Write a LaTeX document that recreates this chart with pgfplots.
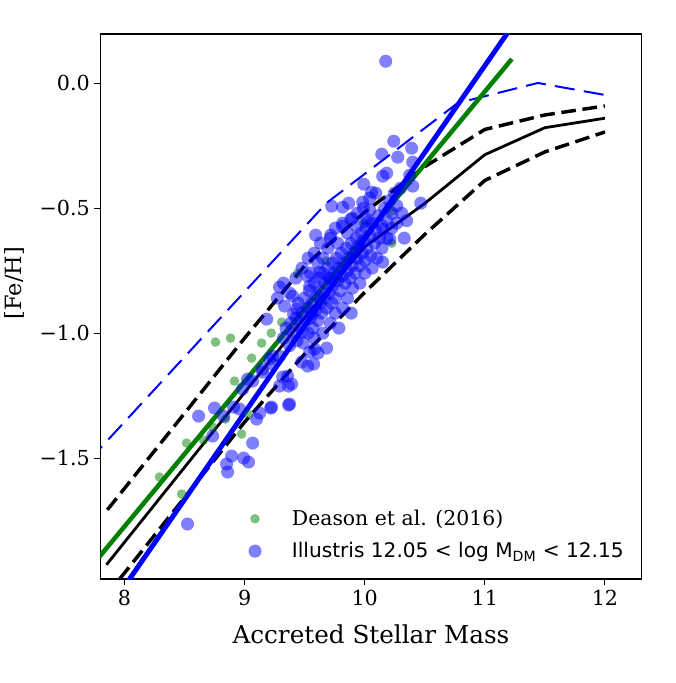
\documentclass[border=0pt]{standalone}
\usepackage{fontspec}
\setmainfont{DejaVu Serif}
\newfontfamily\dvsans{DejaVu Sans}
\usepackage{pgfplots}
\pgfplotsset{compat=1.18}

\definecolor{mplgreen}{RGB}{0,128,0}

\begin{document}
\begin{tikzpicture}
\begin{axis}[
  scale only axis,
  width=405.75pt, height=408.75pt,
  xmin=7.8, xmax=12.304, ymin=-1.984, ymax=0.197,
  axis line style={line width=0.9pt},
  tick style={black, line width=0.8pt},
  tick align=outside, major tick length=4.5pt,
  tick pos=left,
  xtick={8,9,10,11,12}, xticklabels={8,9,10,11,12},
  ytick={-1.5,-1,-0.5,0}, yticklabels={−1.5,−1.0,−0.5,0.0},
  ticklabel style={font=\fontsize{15.5}{18}\selectfont},
  xlabel={Accreted Stellar Mass}, ylabel={[Fe/H]},
  xlabel style={font=\fontsize{18.5}{22}\selectfont,
    at={(axis description cs:0.5,-0.101)}, anchor=center},
  ylabel style={font=\fontsize{16.8}{20}\selectfont,
    at={(axis description cs:-0.159,0.543)}, anchor=center},
  legend cell align=left,
  legend style={draw=none, fill=none, at={(axis description cs:0.98,0.025)},
    anchor=south east, font=\fontsize{15.3}{18}\selectfont,
    row sep=7.25pt, column sep=20.75pt},
]

% Deason et al. (2016) sample
\addplot[only marks, mark=*, mark size=3.6pt, color=mplgreen,
  mark options={draw opacity=0, fill=mplgreen, fill opacity=0.5}]
coordinates {
(8.758,-1.036) (8.883,-1.020) (9.142,-1.040) (9.059,-1.100) (9.309,-0.956)
(9.442,-0.760) (8.916,-1.192) (9.033,-1.324) (8.734,-1.376) (8.841,-1.344)
(8.517,-1.440) (8.658,-1.428) (8.975,-1.404) (8.292,-1.576) (8.476,-1.644)
(10.225,-0.640) (10.225,-0.512) (9.683,-0.712) (9.621,-0.864) (9.792,-0.784)
(9.917,-0.664) (9.222,-1.000) (9.509,-0.900) (9.990,-0.560)
};
\addlegendentry{Deason et al. (2016)}

% Illustris haloes, 12.05 < log M_DM < 12.15
\addplot[only marks, mark=*, mark size=4.9pt, color=blue,
  mark options={draw opacity=0, fill=blue, fill opacity=0.5}]
coordinates {
(10.175,0.088) (10.242,-0.232) (10.142,-0.284) (10.275,-0.296) (10.391,-0.260)
(10.183,-0.360) (10.150,-0.372) (9.992,-0.404) (10.058,-0.436) (10.400,-0.316)
(10.375,-0.368) (10.400,-0.412) (10.467,-0.480) (9.725,-0.492) (9.816,-0.496)
(9.866,-0.480) (9.983,-0.476) (10.042,-0.508) (9.592,-0.608) (9.717,-0.608)
(9.933,-0.572) (10.025,-0.556) (9.816,-0.572) (9.884,-0.544) (10.017,-0.544)
(10.150,-0.584) (10.209,-0.624) (10.150,-0.716)
(8.525,-1.764) (8.617,-1.332) (8.750,-1.300) (8.825,-1.332) (8.734,-1.412)
(8.908,-1.296) (8.958,-1.304) (9.125,-1.320) (9.217,-1.300) (9.100,-1.344)
(9.067,-1.440) (8.892,-1.492) (8.850,-1.524) (8.859,-1.556) (8.992,-1.500)
(9.033,-1.516) (9.366,-1.288) (9.184,-0.944) (9.333,-0.892) (9.408,-0.924)
(9.542,-1.076) (9.575,-1.124) (9.366,-1.212) (9.392,-1.204) (9.317,-1.176)
(9.233,-1.124) (9.150,-1.144) (9.067,-1.192) (8.983,-1.224) (9.025,-1.184)
(9.150,-1.156) (9.233,-1.092) (9.291,-0.816) (9.400,-0.852) (9.525,-0.772)
(9.625,-0.756) (9.709,-0.784) (9.542,-0.812) (9.434,-0.904) (9.558,-0.924)
(9.483,-0.996) (9.583,-1.064) (9.475,-1.116) (9.525,-1.132) (9.358,-1.172)
(9.291,-1.212) (9.375,-1.284) (9.225,-1.296) (9.208,-1.104) (9.291,-1.092)
(9.324,-1.02) (9.345,-0.98) (9.375,-1.05) (9.385,-0.96) (9.406,-1.00)
(9.427,-0.94) (9.437,-1.03) (9.447,-0.88) (9.468,-0.97) (9.478,-0.92)
(9.488,-1.04) (9.498,-0.86) (9.509,-0.95) (9.529,-0.90) (9.529,-1.00)
(9.539,-0.83) (9.550,-0.94) (9.560,-0.88) (9.570,-0.98) (9.580,-0.80)
(9.591,-0.91) (9.601,-0.85) (9.611,-0.95) (9.621,-0.78) (9.632,-0.88)
(9.632,-0.83) (9.642,-0.92) (9.652,-0.76) (9.662,-0.86) (9.673,-0.80)
(9.683,-0.90) (9.693,-0.74) (9.703,-0.84) (9.714,-0.78) (9.724,-0.88)
(9.734,-0.72) (9.734,-0.81) (9.744,-0.76) (9.755,-0.86) (9.765,-0.70)
(9.775,-0.79) (9.785,-0.74) (9.796,-0.83) (9.806,-0.68) (9.816,-0.77)
(9.826,-0.72) (9.837,-0.80) (9.847,-0.66) (9.857,-0.75) (9.867,-0.70)
(9.878,-0.78) (9.888,-0.64) (9.898,-0.73) (9.908,-0.68) (9.919,-0.76)
(9.929,-0.62) (9.939,-0.70) (9.949,-0.65) (9.960,-0.73) (9.970,-0.60)
(9.980,-0.68) (9.990,-0.63) (10.001,-0.71) (10.011,-0.58) (10.021,-0.66)
(10.042,-0.61) (10.052,-0.69) (10.062,-0.56) (10.083,-0.64) (10.093,-0.59)
(10.114,-0.53) (10.124,-0.62) (10.144,-0.57) (10.165,-0.50) (10.185,-0.55)
(10.206,-0.47) (10.226,-0.52) (10.247,-0.44) (10.267,-0.49) (10.298,-0.42)
(9.273,-0.86) (9.324,-0.80) (9.375,-0.84) (9.427,-0.78) (9.478,-0.74)
(9.529,-0.70) (9.580,-0.68) (9.632,-0.64) (9.652,-0.70) (9.714,-0.62)
(9.755,-0.58) (9.816,-0.56) (9.857,-0.60) (9.898,-0.54) (9.939,-0.52)
(9.990,-0.50) (10.042,-0.46) (10.093,-0.44) (9.550,-0.76) (9.611,-0.72)
(9.693,-0.66) (9.775,-0.64)
(9.580,-1.02) (9.652,-1.00) (9.714,-0.96) (9.755,-0.92) (9.816,-0.90)
(9.857,-0.86) (9.898,-0.82) (9.960,-0.80) (10.001,-0.76) (10.062,-0.74)
(10.103,-0.70) (10.144,-0.66) (10.185,-0.62) (10.226,-0.58) (10.267,-0.56)
(10.308,-0.52) (9.785,-0.98) (9.888,-0.92) (9.683,-1.06) (9.611,-1.08)
(10.349,-0.55) (10.329,-0.62)
};
\addlegendentry{\fontsize{15.1}{18}\selectfont\dvsans Illustris 12.05 < log M\textsubscript{DM} < 12.15}

% binned median and spread
\addplot[forget plot, blue, line width=1.5pt, dash pattern=on 15pt off 7pt]
coordinates {(7.70,-1.512) (9.683,-0.479) (10.775,-0.079) (11.442,0.001) (12.0,-0.047)};
\addplot[forget plot, black, line width=2.6pt, dash pattern=on 11pt off 5pt]
coordinates {(7.858,-1.707) (8.5,-1.321) (9.0,-1.020) (9.5,-0.731) (10.0,-0.516)
  (10.5,-0.334) (11.0,-0.185) (11.5,-0.127) (12.0,-0.091)};
\addplot[forget plot, black, line width=2.6pt, dash pattern=on 11pt off 5pt]
coordinates {(7.85,-2.050) (8.0,-1.960) (8.5,-1.658) (9.0,-1.356) (9.5,-1.084)
  (10.0,-0.837) (10.5,-0.605) (11.0,-0.389) (11.5,-0.275) (12.0,-0.195)};
\addplot[forget plot, black, line width=2.1pt]
coordinates {(7.85,-1.927) (8.5,-1.537) (9.0,-1.238) (9.5,-0.938) (10.0,-0.655)
  (10.5,-0.481) (11.0,-0.286) (11.5,-0.178) (12.0,-0.140)};

% linear fits
\addplot[forget plot, mplgreen, line width=3.4pt]
coordinates {(7.70,-1.948) (11.225,0.097)};
\addplot[forget plot, blue, line width=3.7pt]
coordinates {(7.90,-2.083) (11.40,0.348)};
\end{axis}
\path ([shift={(-75pt,-78pt)}]current axis.south west)
  rectangle ([shift={(25.5pt,25.5pt)}]current axis.north east);
\end{tikzpicture}
\end{document}
